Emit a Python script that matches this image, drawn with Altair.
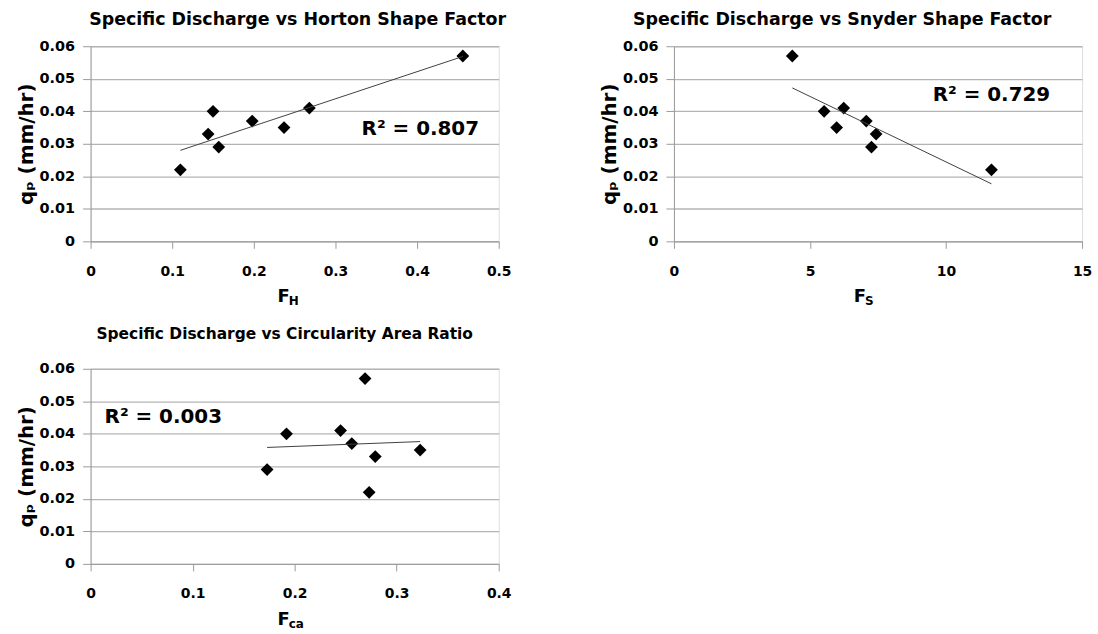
import altair as alt
import pandas as pd

# Data
qp = [0.022, 0.033, 0.040, 0.029, 0.037, 0.035, 0.041, 0.057]
f_h = [0.110, 0.144, 0.150, 0.157, 0.198, 0.237, 0.268, 0.456]
f_s = [11.67, 7.43, 5.52, 7.26, 7.07, 5.98, 6.24, 4.35]
f_ca = [0.273, 0.279, 0.192, 0.173, 0.256, 0.323, 0.245, 0.269]

titles = [
    "Specific Discharge vs Horton Shape Factor",
    "Specific Discharge vs Snyder Shape Factor",
    "Specific Discharge vs Circularity  Area Ratio",
]
r2_labels = ["R\u00b2 = 0.807", "R\u00b2 = 0.729", "R\u00b2 = 0.003"]
r2_pos = [(0.332, 0.0345), (9.51, 0.0449), (0.0137, 0.0452)]
x_domains = [[0, 0.5], [0, 15], [0, 0.4]]
x_ticks = [[0, 0.1, 0.2, 0.3, 0.4, 0.5], [0, 5, 10, 15], [0, 0.1, 0.2, 0.3, 0.4]]
y_ticks = [0, 0.01, 0.02, 0.03, 0.04, 0.05, 0.06]
x_subs = ["H", "S", "ca"]

FONT = "DejaVu Sans"
W, H = 410, 196
GRID = "#b4b4b4"
AXIS = "#9a9a9a"


def panel(xs, i, title_size, title_dx, title_offset, f_x):
    df = pd.DataFrame({"x": xs, "qp": qp})
    xenc = alt.X("x:Q", scale=alt.Scale(domain=x_domains[i], nice=False),
                 axis=alt.Axis(values=x_ticks[i], format="~f", grid=False, title=None,
                               tickSize=7, tickColor=AXIS, domainColor=AXIS,
                               labelFont=FONT, labelFontWeight="bold", labelFontSize=14,
                               labelColor="black", labelPadding=16, labelFlush=False,
                               labelOverlap=False))
    yenc = alt.Y("qp:Q", scale=alt.Scale(domain=[0, 0.06], nice=False),
                 axis=alt.Axis(values=y_ticks, tickCount=7, format="~f", grid=True, gridColor=GRID,
                               gridWidth=1.3, tickSize=8, tickColor=AXIS, domainColor=AXIS,
                               labelFont=FONT, labelFontWeight="bold", labelFontSize=14.5,
                               labelColor="black", labelPadding=8, labelOverlap=False,
                               title="q\u209a (mm/hr)", titleFont=FONT, titleFontWeight="bold",
                               titleFontSize=20, titleColor="black", titlePadding=3))
    base = alt.Chart(df)
    pts = base.mark_point(shape="diamond", filled=True, color="black", size=165, opacity=1).encode(x=xenc, y=yenc)
    line = base.transform_regression("x", "qp").mark_line(color="#404040", strokeWidth=1).encode(x=xenc, y=yenc)
    r2 = alt.Chart(pd.DataFrame({"x": [r2_pos[i][0]], "qp": [r2_pos[i][1]], "t": [r2_labels[i]]})).mark_text(
        align="left", baseline="middle", font=FONT, fontWeight="bold", fontSize=20, color="black"
    ).encode(x=xenc, y=yenc, text="t:N")
    lab = pd.DataFrame({"t": ["F"]})
    fmain = alt.Chart(lab).mark_text(align="right", baseline="alphabetic", font=FONT, fontWeight="bold",
                                     fontSize=18, color="black").encode(
        x=alt.value(f_x), y=alt.value(H + 61), text="t:N")
    fsub = alt.Chart(pd.DataFrame({"t": [x_subs[i]]})).mark_text(align="left", baseline="alphabetic", font=FONT,
                                                                 fontWeight="bold", fontSize=12, color="black").encode(
        x=alt.value(f_x - 1), y=alt.value(H + 64), text="t:N")
    return alt.layer(pts, line, r2, fmain, fsub).properties(
        width=W, height=H,
        title=alt.TitleParams(titles[i], font=FONT, fontWeight="bold", fontSize=title_size, color="black",
                              anchor="middle", frame="group", dx=title_dx, offset=title_offset))


p1 = panel(f_h, 0, 17.5, 3, 10, 200)
p2 = panel(f_s, 1, 17.5, -36, 10, 193)
p3 = panel(f_ca, 2, 15.5, -10, 18, 200)

chart = alt.vconcat(alt.hconcat(p1, p2, spacing=87), p3, spacing=19).properties(
    padding={"left": 15, "top": 9, "right": 5, "bottom": 5}
).configure_view(stroke=None).configure(background="white")

chart.save("out.html", embed_options={"renderer": "svg", "actions": False})
